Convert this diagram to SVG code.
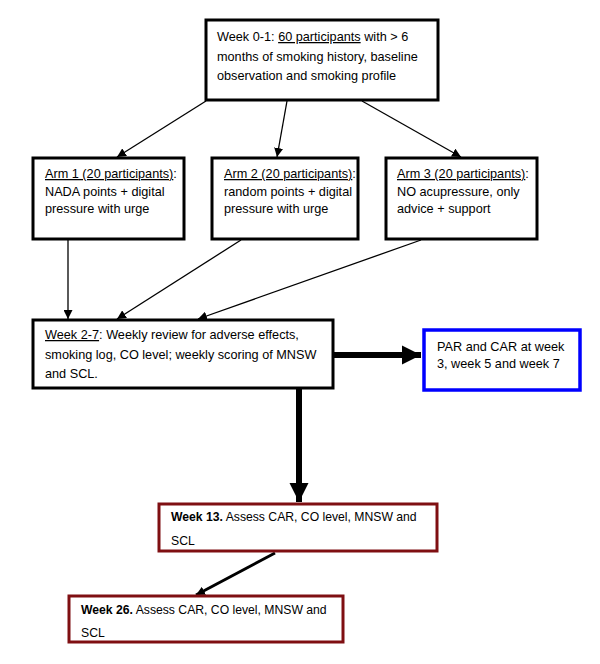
<svg xmlns="http://www.w3.org/2000/svg" width="600" height="664" viewBox="0 0 600 664">
<style>
text{font-family:"Liberation Sans",Arial,sans-serif;font-size:12.7px;fill:#000}
.s{font-size:12.2px}
.u{text-decoration:underline}
.b{font-weight:bold}
.bx{fill:#fff;stroke:#000;stroke-width:3}
.blue{fill:#fff;stroke:#0000ff;stroke-width:3.5}
.red{fill:#fff;stroke:#7f0f12;stroke-width:3}
.thin{stroke:#000;stroke-width:1.3;fill:none}
.thick{stroke:#000;stroke-width:6;fill:none}
</style>
<defs>
<marker id="ah" viewBox="0 0 10 10" refX="10" refY="5" markerWidth="9" markerHeight="9" markerUnits="userSpaceOnUse" orient="auto">
<path d="M0,0 L10,5 L0,10 z" fill="#000"/>
</marker>
<marker id="ahb" viewBox="0 0 10 10" refX="10" refY="5" markerWidth="3.2" markerHeight="3.2" orient="auto">
<path d="M0,0 L10,5 L0,10 z" fill="#000"/>
</marker>
</defs>
<rect width="600" height="664" fill="#fff"/>
<g id="connectors">
<line class="thin" x1="206" y1="101" x2="117" y2="157" marker-end="url(#ah)"/>
<line class="thin" x1="287" y1="101" x2="277" y2="157" marker-end="url(#ah)"/>
<line class="thin" x1="362" y1="101" x2="461" y2="157" marker-end="url(#ah)"/>
<line class="thin" x1="68" y1="240" x2="68" y2="319" marker-end="url(#ah)"/>
<line class="thin" x1="241" y1="240" x2="117" y2="319" marker-end="url(#ah)"/>
<line class="thin" x1="421" y1="240" x2="198" y2="319" marker-end="url(#ah)"/>
<line class="thick" x1="334" y1="355" x2="421" y2="355" marker-end="url(#ahb)"/>
<line class="thick" x1="299" y1="389" x2="299" y2="502" marker-end="url(#ahb)"/>
<line x1="275" y1="553" x2="196" y2="595" stroke="#000" stroke-width="3" marker-end="url(#ah)"/>
</g>
<g id="n-week01">
<rect class="bx" x="206" y="20" width="232" height="80"/>
<text x="217" y="41">Week 0-1: <tspan class="u">60 participants</tspan> with &gt; 6</text>
<text x="217" y="61">months of smoking history, baseline</text>
<text x="217" y="80">observation and smoking profile</text>
</g>
<g id="n-arm1">
<rect class="bx" x="33" y="158" width="151" height="81"/>
<text x="45" y="178"><tspan class="u">Arm 1 (20 participants)</tspan>:</text>
<text x="45" y="196">NADA points + digital</text>
<text x="45" y="213">pressure with urge</text>
</g>
<g id="n-arm2">
<rect class="bx" x="212" y="158" width="146" height="81"/>
<text x="224" y="178"><tspan class="u">Arm 2 (20 participants)</tspan>:</text>
<text x="224" y="196">random points + digital</text>
<text x="224" y="213">pressure with urge</text>
</g>
<g id="n-arm3">
<rect class="bx" x="386" y="158" width="151" height="81"/>
<text x="397" y="178"><tspan class="u">Arm 3 (20 participants)</tspan>:</text>
<text x="397" y="196">NO acupressure, only</text>
<text x="397" y="213">advice + support</text>
</g>
<g id="n-week27">
<rect class="bx" x="33" y="320" width="300" height="68"/>
<text x="45" y="339"><tspan class="u">Week 2-7</tspan>: Weekly review for adverse effects,</text>
<text x="45" y="359">smoking log, CO level; weekly scoring of MNSW</text>
<text x="45" y="378">and SCL.</text>
</g>
<g id="n-par">
<rect class="blue" x="424" y="330" width="156" height="60"/>
<text x="437" y="351">PAR and CAR at week</text>
<text x="437" y="368">3, week 5 and week 7</text>
</g>
<g id="n-week13">
<rect class="red" x="159" y="504" width="278" height="47"/>
<text class="s" x="171" y="521"><tspan class="b">Week 13.</tspan> Assess CAR, CO level, MNSW and</text>
<text class="s" x="171" y="545">SCL</text>
</g>
<g id="n-week26">
<rect class="red" x="69" y="596" width="274" height="46"/>
<text class="s" x="81" y="614"><tspan class="b">Week 26.</tspan> Assess CAR, CO level, MNSW and</text>
<text class="s" x="81" y="637">SCL</text>
</g>
</svg>
